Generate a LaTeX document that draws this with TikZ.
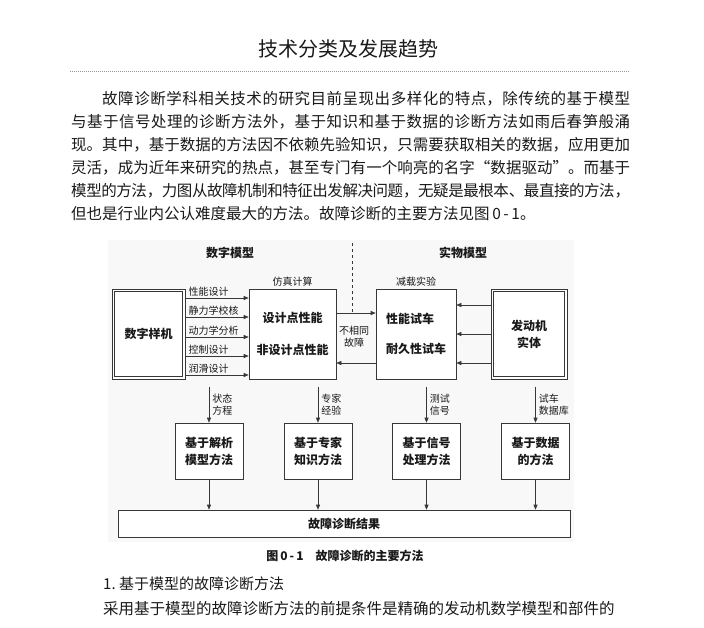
\documentclass[tikz,border=0pt]{standalone}
\usepackage{fontspec}
\setmainfont{Noto Sans CJK SC}
\usepackage{xcolor}
\usepackage{tikz}
\usetikzlibrary{arrows.meta, positioning, calc}
\XeTeXlinebreaklocale "zh"
\XeTeXlinebreakskip=0pt plus 2pt minus 1pt
\definecolor{DiagLine}{RGB}{55, 55, 55}
\definecolor{DiagBack}{RGB}{248, 248, 248}
\definecolor{RuleGray}{RGB}{150, 150, 150}
\definecolor{PageText}{RGB}{25, 25, 25}

\tikzset{
  box/.style={draw=DiagLine, fill=white, line width=0.6pt, inner sep=0pt},
  arr/.style={draw=DiagLine, line width=0.6pt, -{Triangle[length=5pt, width=4pt]}},
  boxtext/.style={font=\fontsize{12}{17}\selectfont\bfseries, align=center},
  smalltext/.style={font=\fontsize{10}{12}\selectfont, inner sep=1pt},
}

\begin{document}
\begin{tikzpicture}[x=1pt, y=-1pt, text=PageText]
    \useasboundingbox (0,0) rectangle (704,627);
    \node[font=\fontsize{20}{24}\selectfont] (title) at (348,49) {技术分类及发展趋势};
    \draw[RuleGray, line width=0.5pt, dash pattern=on 1pt off 1pt] (70,71) -- (630,71);
    \node[
      anchor=north west, inner sep=0pt, text width=559pt, align=justify,
      font=\fontsize{15.5}{23}\selectfont
    ] (intro) at (71,91) {%
      \hspace*{2em}故障诊断学科相关技术的研究目前呈现出多样化的特点，除传统的基于模型\linebreak%
      与基于信号处理的诊断方法外，基于知识和基于数据的诊断方法如雨后春笋般涌\linebreak%
      现。其中，基于数据的方法因不依赖先验知识，只需要获取相关的数据，应用更加\linebreak%
      灵活，成为近年来研究的热点，甚至专门有一个响亮的名字“数据驱动”。而基于\linebreak%
      模型的方法，力图从故障机制和特征出发解决问题，无疑是最根本、最直接的方法，\linebreak%
      但也是行业内公认难度最大的方法。故障诊断的主要方法见图\,0\,-\,1。%
    };

    % diagram
    \fill[DiagBack] (108,240) rectangle (574,542);
    \node[boxtext] (digi) at (230,253) {数字模型};
    \node[boxtext] (phys) at (463,253) {实物模型};

    \node[box, boxtext, minimum width=73pt, minimum height=90pt] (proto) at (148.5,334) {数字样机};
    \draw[DiagLine, line width=0.6pt] ([shift={(3,3)}]proto.north west) rectangle ([shift={(-3,-3)}]proto.south east);
    \node[box, boxtext, minimum width=87pt, minimum height=90pt] (sim) at (292.5,334) {设计点性能\\[15pt]非设计点性能};
    \node[box, boxtext, align=left, minimum width=80pt, minimum height=90pt] (test) at (416,334) {性能试车\\[13pt]耐久性试车};
    \node[box, boxtext, minimum width=76pt, minimum height=90pt] (engine) at (529,334) {发动机\\实体};
    \draw[DiagLine, line width=0.6pt] ([shift={(3,3)}]engine.north west) rectangle ([shift={(-3,-3)}]engine.south east);
    \node[smalltext, above=1pt of sim] (simlbl) {仿真计算};
    \node[smalltext, above=1pt of test] (testlbl) {减载实验};

    \foreach \dy/\lbl in {-36/性能设计, -17/静力学校核, 3/动力学分析, 22/控制设计, 41/润滑设计}
      \draw[arr] ($(proto.east)+(0,\dy)$) -- node[smalltext, anchor=south west, pos=0, xshift=2pt] {\lbl} ($(sim.west)+(0,\dy)$);

    \draw[arr] ($(sim.east)+(0,-21)$) -- ($(test.west)+(0,-21)$);
    \draw[arr] ($(test.west)+(0,29)$) -- ($(sim.east)+(0,29)$);
    \node[smalltext, align=center] (diff) at (354,337) {不相同\\故障};
    \coordinate (split) at (352,243);
    \draw[DiagLine, line width=0.5pt, dashed] (split) -- ($(split |- sim.east)+(0,-21)$);

    \foreach \dy in {-29, 0, 29}
      \draw[arr] ($(engine.west)+(0,\dy)$) -- ($(test.east)+(0,\dy)$);

    \node[box, boxtext, minimum width=452pt, minimum height=27pt] (res) at (344,523.5) {故障诊断结果};
    \foreach \i/\x/\src/\lbl in {1/209/{状态\\方程}/{基于解析\\模型方法},
        2/318/{专家\\经验}/{基于专家\\知识方法},
        3/426.5/{测试\\信号}/{基于信号\\处理方法},
        4/535.5/{试车\\数据库}/{基于数据\\的方法}} {
      \node[box, boxtext, minimum width=68pt, minimum height=56pt] (m\i) at (\x,451) {\lbl};
      \draw[arr] ($(m\i.north)+(0,-36)$) -- node[smalltext, right, align=left, xshift=2pt] {\src} (m\i.north);
      \draw[arr] (m\i.south) -- (m\i.south |- res.north);
    }

    \node[font=\fontsize{12}{14}\selectfont\bfseries] (cap) at (345,556) {图\,0\,-\,1\quad 故障诊断的主要方法};
    \node[anchor=west, inner sep=0pt, font=\fontsize{15}{18}\selectfont] (sec) at (103,584) {1.\ 基于模型的故障诊断方法};
    \node[anchor=west, inner sep=0pt, font=\fontsize{15.5}{18}\selectfont] (next) at (103,609) {采用基于模型的故障诊断方法的前提条件是精确的发动机数学模型和部件的};
\end{tikzpicture}
\end{document}
